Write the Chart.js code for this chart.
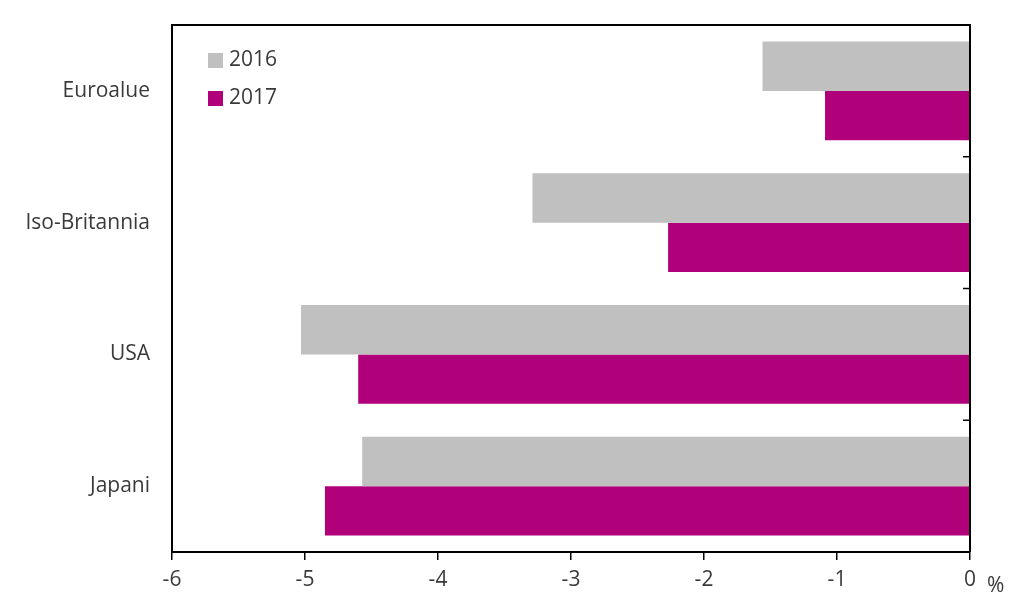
<!DOCTYPE html>
<html>
<head>
<meta charset="utf-8">
<script src="https://cdn.jsdelivr.net/npm/chart.js@4/dist/chart.umd.min.js"></script>
<style>
  html, body { margin: 0; padding: 0; background: #fff; }
  #wrap { width: 1024px; height: 610px; }
</style>
</head>
<body>
<div id="wrap"><canvas id="chart"></canvas></div>
<script>
const categories = ["Euroalue", "Iso-Britannia", "USA", "Japani"];
const values2016 = [-1.56, -3.29, -5.03, -4.57];
const values2017 = [-1.09, -2.27, -4.60, -4.85];
const seriesNames = ["2016", "2017"];
const xTicks = [-6, -5, -4, -3, -2, -1, 0];

const textColor = '#3a3a3a';
const fontFamily = '"Open Sans", Lato, "DejaVu Sans", sans-serif';

// frame, right-hand inner ticks, legend and the "%" unit
const framePlugin = {
    id: 'frame',
    afterDraw(chart) {
        const ctx = chart.ctx;
        const a = chart.chartArea;
        const y = chart.scales.y;
        const x = chart.scales.x;
        ctx.save();
        ctx.strokeStyle = '#000';
        ctx.lineWidth = 2;
        ctx.beginPath();
        ctx.moveTo(a.left, a.top);
        ctx.lineTo(a.right, a.top);
        ctx.lineTo(a.right, a.bottom);
        ctx.stroke();
        ctx.lineWidth = 1.5;
        for (let i = 0; i < categories.length - 1; i++) {
            const py = (y.getPixelForValue(i) + y.getPixelForValue(i + 1)) / 2;
            ctx.beginPath();
            ctx.moveTo(a.right - 7, py);
            ctx.lineTo(a.right, py);
            ctx.stroke();
        }
        // legend
        ctx.font = '21px ' + fontFamily;
        ctx.textBaseline = 'middle';
        ctx.textAlign = 'left';
        chart.data.datasets.forEach((ds, i) => {
            const ly = a.top + 35 + i * 38;
            ctx.fillStyle = ds.backgroundColor;
            ctx.fillRect(a.left + 36, ly - 7, 15, 15);
            ctx.fillStyle = textColor;
            ctx.fillText(ds.label, a.left + 57, ly);
        });
        // unit
        ctx.fillText('%', x.getPixelForValue(0) + 17, a.bottom + 34);
        ctx.restore();
    }
};

new Chart(document.getElementById('chart'), {
    type: 'bar',
    data: {
        labels: categories,
        datasets: [
            { label: seriesNames[0], data: values2016, backgroundColor: '#c0c0c0', borderWidth: 0 },
            { label: seriesNames[1], data: values2017, backgroundColor: '#b0007a', borderWidth: 0 }
        ]
    },
    options: {
        indexAxis: 'y',
        responsive: true,
        maintainAspectRatio: false,
        animation: false,
        layout: { padding: { top: 25, right: 54, left: 0, bottom: 0 } },
        plugins: {
            legend: { display: false },
            tooltip: { enabled: false }
        },
        datasets: {
            bar: { categoryPercentage: 0.75, barPercentage: 1.0 }
        },
        scales: {
            x: {
                min: -6,
                max: 0,
                afterBuildTicks(scale) {
                    scale.ticks = xTicks.map(v => ({ value: v }));
                },
                afterFit(scale) {
                    scale.height = 58;
                    scale.paddingLeft = 0;
                    scale.paddingRight = 0;
                },
                grid: {
                    drawOnChartArea: false,
                    drawTicks: true,
                    tickLength: 8,
                    color: '#000',
                    lineWidth: 1.5
                },
                border: { display: true, color: '#000', width: 2 },
                ticks: {
                    color: textColor,
                    font: { size: 21, family: fontFamily },
                    padding: 7,
                    maxRotation: 0
                }
            },
            y: {
                afterFit(scale) {
                    scale.width = 172;
                    scale.paddingTop = 0;
                    scale.paddingBottom = 0;
                },
                grid: { display: false, drawTicks: false },
                border: { display: true, color: '#000', width: 2 },
                ticks: {
                    color: textColor,
                    font: { size: 21, family: fontFamily },
                    padding: 22
                }
            }
        }
    },
    plugins: [framePlugin]
});
</script>
</body>
</html>
